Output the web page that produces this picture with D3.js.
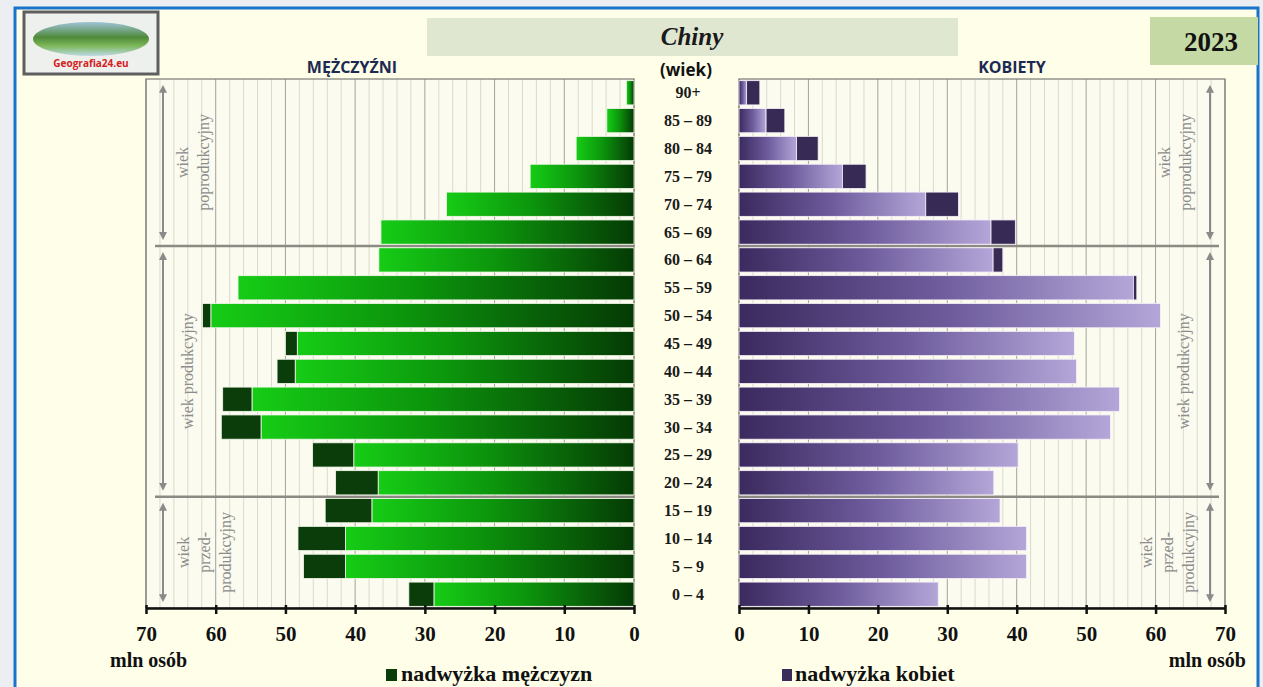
<!DOCTYPE html>
<html><head><meta charset="utf-8">
<script src="https://cdn.jsdelivr.net/npm/d3@7"></script>
<style>body{margin:0;background:#eceef2;overflow:hidden}</style>
</head><body><svg id="c" width="1263" height="687"></svg>
<script>
// ---- data (top to bottom) ----
const ageGroups = ["90+","85 – 89","80 – 84","75 – 79","70 – 74","65 – 69","60 – 64","55 – 59","50 – 54","45 – 49","40 – 44","35 – 39","30 – 34","25 – 29","20 – 24","15 – 19","10 – 14","5 – 9","0 – 4"];
const men   = [1.1, 3.9, 8.3, 14.9, 26.9, 36.3, 36.6, 56.8, 61.9, 50.0, 51.2, 59.0, 59.2, 46.1, 42.8, 44.3, 48.2, 47.4, 32.3];
const women = [3.0, 6.6, 11.4, 18.3, 31.6, 39.8, 38.0, 57.3, 60.7, 48.3, 48.6, 54.8, 53.5, 40.2, 36.7, 37.6, 41.4, 41.4, 28.7];
const xTicks = [0,10,20,30,40,50,60,70];
const sectionLabels = [["wiek","poprodukcyjny"],["wiek produkcyjny"],["wiek","przed-","produkcyjny"]];
const sectionRanges = [["90+","65 – 69"],["60 – 64","20 – 24"],["15 – 19","0 – 4"]];
const title = "Chiny", year = "2023";
const menLabel = "MĘŻCZYŹNI", womenLabel = "KOBIETY", ageLabel = "(wiek)", unitLabel = "mln osób";
const legendMen = "nadwyżka mężczyzn", legendWomen = "nadwyżka kobiet";

const svg = d3.select("#c");
const serif = "'Liberation Serif','Times New Roman',serif";
const sans = "'Open Sans','Liberation Sans',sans-serif";

// frame
svg.append("rect").attr("x",15).attr("y",8).attr("width",1243).attr("height",700)
  .attr("fill","#fefee9").attr("stroke","#1b74cc").attr("stroke-width",3);

const defs = svg.append("defs");
const gG = defs.append("linearGradient").attr("id","gGreen").attr("x1",0).attr("x2",1).attr("y1",0).attr("y2",0);
gG.append("stop").attr("offset","0").attr("stop-color","#16cc16");
gG.append("stop").attr("offset","0.45").attr("stop-color","#0c960c");
gG.append("stop").attr("offset","1").attr("stop-color","#053a05");
const gP = defs.append("linearGradient").attr("id","gPurple").attr("x1",0).attr("x2",1).attr("y1",0).attr("y2",0);
gP.append("stop").attr("offset","0").attr("stop-color","#3a2a5e");
gP.append("stop").attr("offset","0.5").attr("stop-color","#6d5b9c");
gP.append("stop").attr("offset","1").attr("stop-color","#b4a6d8");
const gL = defs.append("linearGradient").attr("id","gLogo").attr("x1",0).attr("x2",0).attr("y1",0).attr("y2",1);
gL.append("stop").attr("offset","0").attr("stop-color","#9fc3d8");
gL.append("stop").attr("offset","0.45").attr("stop-color","#4f8a3a");
gL.append("stop").attr("offset","0.7").attr("stop-color","#7db85a");
gL.append("stop").attr("offset","1").attr("stop-color","#bcd9e6");
defs.append("marker").attr("id","arr").attr("viewBox","0 0 10 10").attr("refX",5).attr("refY",5)
  .attr("markerWidth",4).attr("markerHeight",4).attr("orient","auto-start-reverse")
  .append("path").attr("d","M0,0 L10,5 L0,10 z").attr("fill","#8a8a8a");

// logo
svg.append("rect").attr("x",24).attr("y",12).attr("width",134).attr("height",62)
  .attr("fill","#eef0ee").attr("stroke","#5e5e5e").attr("stroke-width",3);
svg.append("ellipse").attr("cx",91).attr("cy",39).attr("rx",58).attr("ry",17).attr("fill","url(#gLogo)");
svg.append("text").attr("x",91).attr("y",67).attr("text-anchor","middle").attr("font-family",sans)
  .attr("font-weight","bold").attr("font-size",10).attr("fill","#d42020").text("Geografia24.eu");

// title boxes
svg.append("rect").attr("x",427).attr("y",18).attr("width",531).attr("height",38).attr("fill","#dfe7d1");
svg.append("text").attr("x",692).attr("y",45).attr("text-anchor","middle").attr("font-family",serif)
  .attr("font-style","italic").attr("font-weight","bold").attr("font-size",25).attr("fill","#1a1a1a").text(title);
svg.append("rect").attr("x",1150).attr("y",17).attr("width",108).attr("height",48).attr("fill","#c5d9a5");
svg.append("text").attr("x",1211).attr("y",51).attr("text-anchor","middle").attr("font-family",serif)
  .attr("font-weight","bold").attr("font-size",27).attr("fill","#111").text(year);

svg.append("text").attr("x",352).attr("y",73).attr("text-anchor","middle").attr("font-family",sans)
  .attr("font-weight","bold").attr("font-size",16).attr("fill","#1c2951").text(menLabel);
svg.append("text").attr("x",1012).attr("y",73).attr("text-anchor","middle").attr("font-family",sans)
  .attr("font-weight","bold").attr("font-size",16).attr("fill","#1c2951").text(womenLabel);
svg.append("text").attr("x",686).attr("y",76).attr("text-anchor","middle").attr("font-family",sans)
  .attr("font-weight","bold").attr("font-size",17).attr("fill","#111").text(ageLabel);

// scales
const plotTop = 79, plotBottom = 608;
const y = d3.scaleBand().domain(ageGroups).range([plotTop,plotBottom]).paddingInner(0.13).paddingOuter(0.06);
const xL = d3.scaleLinear().domain([0,70]).range([634,146]);
const xR = d3.scaleLinear().domain([0,70]).range([739,1225]);
const gap = (y.step() - y.bandwidth())/2;

function panel(x, side){
  const g = svg.append("g");
  const x0 = Math.min(x(0),x(70)), x1 = Math.max(x(0),x(70));
  g.append("rect").attr("x",x0).attr("y",plotTop).attr("width",x1-x0).attr("height",plotBottom-plotTop).attr("fill","#fbfbef");
  const minor = d3.range(0,71,2).filter(v=>v%10!==0);
  g.selectAll(".mn").data(minor).join("line").attr("x1",d=>x(d)).attr("x2",d=>x(d))
    .attr("y1",plotTop).attr("y2",plotBottom).attr("stroke","#d9d9cf").attr("stroke-width",1);
  g.selectAll(".mj").data(xTicks).join("line").attr("x1",d=>x(d)).attr("x2",d=>x(d))
    .attr("y1",plotTop).attr("y2",plotBottom).attr("stroke","#a3a39b").attr("stroke-width",1);
  [1,2].forEach(i=>{
    const yy = y(sectionRanges[i][0]) - gap;
    g.append("line").attr("x1", side==="L"? x0+9 : x0).attr("x2", side==="L"? x1 : x1-6)
      .attr("y1",yy).attr("y2",yy).attr("stroke","#8b8b84").attr("stroke-width",2.5);
  });
  const arrowX = side==="L" ? 163 : 1210;
  const textCx = side==="L" ? [193,187,204] : [1175,1183,1167];
  sectionRanges.forEach((r,i)=>{
    const y0 = y(r[0]) - gap, y1 = y(r[1]) + y.bandwidth() + gap;
    g.append("line").attr("x1",arrowX).attr("x2",arrowX).attr("y1",y0+10).attr("y2",y1-10)
      .attr("stroke","#8a8a8a").attr("stroke-width",2)
      .attr("marker-start","url(#arr)").attr("marker-end","url(#arr)");
    const lines = sectionLabels[i], n = lines.length, cy = (y0+y1)/2;
    lines.forEach((t,j)=>{
      const cx = textCx[i] + (j-(n-1)/2)*21;
      g.append("text").attr("transform",`translate(${cx},${cy}) rotate(-90)`)
        .attr("text-anchor","middle").attr("dominant-baseline","central")
        .attr("font-family",serif).attr("font-size",16).attr("fill","#8c8c8c").text(t);
    });
  });
  g.append("rect").attr("x",x0).attr("y",plotTop).attr("width",x1-x0).attr("height",plotBottom-plotTop)
    .attr("fill","none").attr("stroke","#7a7a74").attr("stroke-width",1.2);
  return g;
}
const gLeft = panel(xL,"L");
const gRight = panel(xR,"R");

// bars
const rows = ageGroups.map((a,i)=>({age:a, m:men[i], w:women[i], c:Math.min(men[i],women[i])}));
gLeft.selectAll(".bm").data(rows).join("rect")
  .attr("x",d=>xL(d.c)).attr("width",d=>xL(0)-xL(d.c)).attr("y",d=>y(d.age)).attr("height",y.bandwidth())
  .attr("fill","url(#gGreen)").attr("stroke","#f4f8ec").attr("stroke-width",0.8);
gLeft.selectAll(".sm").data(rows.filter(d=>d.m>d.w)).join("rect")
  .attr("x",d=>xL(d.m)).attr("width",d=>xL(d.w)-xL(d.m)).attr("y",d=>y(d.age)).attr("height",y.bandwidth())
  .attr("fill","#0b3d0b").attr("stroke","#f4f8ec").attr("stroke-width",0.8);
gRight.selectAll(".bw").data(rows).join("rect")
  .attr("x",xR(0)).attr("width",d=>xR(d.c)-xR(0)).attr("y",d=>y(d.age)).attr("height",y.bandwidth())
  .attr("fill","url(#gPurple)").attr("stroke","#f8f0f8").attr("stroke-width",0.8);
gRight.selectAll(".sw").data(rows.filter(d=>d.w>d.m)).join("rect")
  .attr("x",d=>xR(d.m)).attr("width",d=>xR(d.w)-xR(d.m)).attr("y",d=>y(d.age)).attr("height",y.bandwidth())
  .attr("fill","#372a55").attr("stroke","#f8f0f8").attr("stroke-width",0.8);

// age labels
svg.selectAll(".age").data(ageGroups).join("text")
  .attr("x",688).attr("y",d=>y(d)+y.bandwidth()/2).attr("dominant-baseline","central")
  .attr("text-anchor","middle").attr("font-family",serif).attr("font-weight","bold")
  .attr("font-size",16).attr("fill","#1a1a1a").text(d=>d);

// axes
function axis(x){
  const a = svg.append("g").attr("transform",`translate(0,${plotBottom})`)
    .call(d3.axisBottom(x).tickValues(xTicks).tickSize(6).tickSizeOuter(0).tickPadding(12).tickFormat(d3.format("d")));
  a.select(".domain").attr("stroke","#111").attr("stroke-width",2.5);
  a.selectAll(".tick line").attr("stroke","#111").attr("stroke-width",2.5).attr("y1",-3);
  a.selectAll(".tick text").attr("font-family",serif).attr("font-weight","bold").attr("font-size",21).attr("fill","#111");
}
axis(xL); axis(xR);

svg.append("text").attr("x",110).attr("y",667).attr("font-family",serif).attr("font-weight","bold")
  .attr("font-size",20).attr("fill","#111").text(unitLabel);
svg.append("text").attr("x",1246).attr("y",667).attr("text-anchor","end").attr("font-family",serif).attr("font-weight","bold")
  .attr("font-size",20).attr("fill","#111").text(unitLabel);

// legend
svg.append("rect").attr("x",386).attr("y",669).attr("width",11).attr("height",12).attr("fill","#0b3d0b");
svg.append("text").attr("x",401).attr("y",681).attr("font-family",serif).attr("font-weight","bold")
  .attr("font-size",22).attr("fill","#111").text(legendMen);
svg.append("rect").attr("x",782).attr("y",669).attr("width",10).attr("height",12).attr("fill","#3a2d5a");
svg.append("text").attr("x",795).attr("y",681).attr("font-family",serif).attr("font-weight","bold")
  .attr("font-size",22).attr("fill","#111").text(legendWomen);
</script></body></html>
